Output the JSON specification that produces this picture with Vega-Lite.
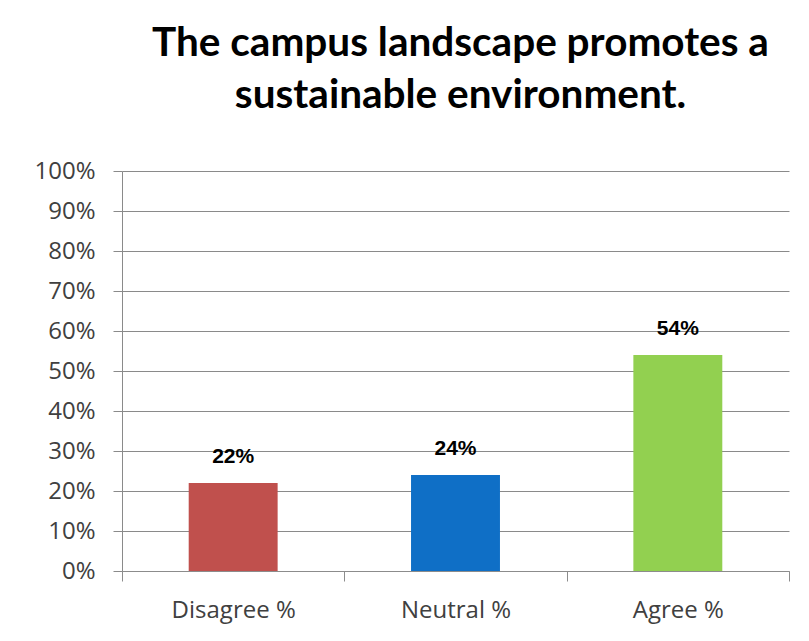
{
  "$schema": "https://vega.github.io/schema/vega-lite/v6.json",
  "width": 667,
  "height": 400,
  "autosize": {"type": "none"},
  "padding": {"left": 122, "top": 171, "right": 20, "bottom": 70},
  "background": "white",
  "title": {
    "text": ["The campus landscape promotes a", "sustainable environment."],
    "font": "Lato",
    "fontSize": 40.5,
    "fontWeight": "bold",
    "color": "#000000",
    "anchor": "middle",
    "lineHeight": 52,
    "offset": 43,
    "dx": 5
  },
  "data": {
    "values": [
      {"category": "Disagree %", "value": 0.22},
      {"category": "Neutral %", "value": 0.24},
      {"category": "Agree %", "value": 0.54}
    ]
  },
  "encoding": {
    "x": {
      "field": "category",
      "type": "nominal",
      "sort": null,
      "scale": {"paddingInner": 0, "paddingOuter": 0},
      "axis": {
        "title": null,
        "labelAngle": 0,
        "tickBand": "extent",
        "tickSize": 10,
        "tickColor": "#8c8c8c",
        "domainColor": "#8c8c8c",
        "labelPadding": 17,
        "labelFont": "Open Sans",
        "labelFontSize": 24,
        "labelColor": "#404040",
        "grid": false
      }
    },
    "y": {
      "field": "value",
      "type": "quantitative",
      "scale": {"domain": [0, 1]},
      "axis": {
        "title": null,
        "values": [0, 0.1, 0.2, 0.3, 0.4, 0.5, 0.6, 0.7, 0.8, 0.9, 1],
        "format": ".0%",
        "grid": true,
        "gridColor": "#8a8a8a",
        "gridOpacity": 1,
        "tickColor": "#8a8a8a",
        "tickSize": 9,
        "domainColor": "#8a8a8a",
        "labelPadding": 18,
        "labelFont": "Open Sans",
        "labelFontSize": 24,
        "labelColor": "#404040"
      }
    }
  },
  "layer": [
    {
      "mark": {"type": "bar", "width": {"band": 0.4}},
      "encoding": {
        "color": {
          "field": "category",
          "type": "nominal",
          "scale": {
            "domain": ["Disagree %", "Neutral %", "Agree %"],
            "range": ["#C0504D", "#0F6FC6", "#92D050"]
          },
          "legend": null
        }
      }
    },
    {
      "mark": {
        "type": "text",
        "dy": -20,
        "baseline": "alphabetic",
        "font": "Liberation Sans",
        "fontWeight": "bold",
        "fontSize": 21,
        "color": "#000000"
      },
      "encoding": {
        "text": {"field": "value", "type": "quantitative", "format": ".0%"}
      }
    }
  ],
  "config": {"view": {"stroke": null}}
}
